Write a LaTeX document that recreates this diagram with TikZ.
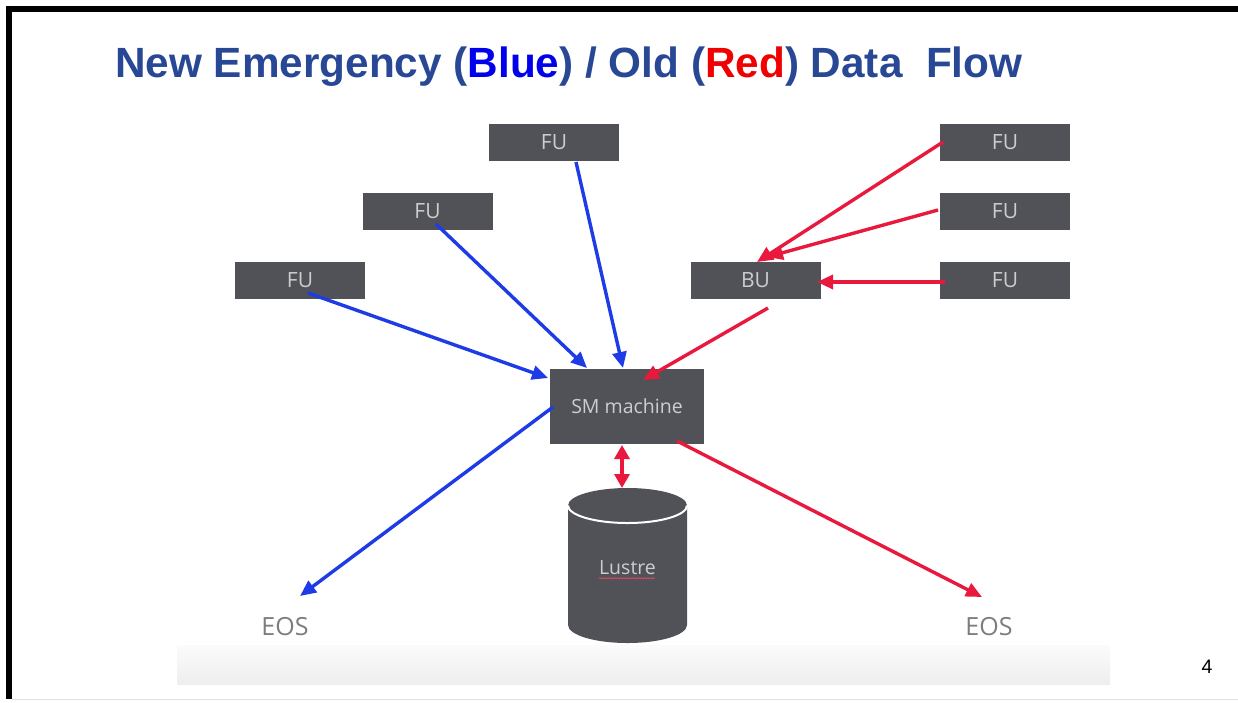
\documentclass[tikz,border=0pt]{standalone}
\usepackage{fontspec}
\setmainfont{Liberation Sans}
\newfontfamily\boxfont{Open Sans}
\usetikzlibrary{arrows.meta,decorations.pathmorphing}
\definecolor{boxgray}{RGB}{80,82,87}
\definecolor{boxtext}{RGB}{205,205,208}
\definecolor{titleblue}{RGB}{40,72,150}
\definecolor{pureblue}{RGB}{0,0,235}
\definecolor{purered}{RGB}{240,0,0}
\definecolor{arrblue}{RGB}{30,60,230}
\definecolor{arrred}{RGB}{232,25,60}
\definecolor{eosgray}{RGB}{125,125,125}
\begin{document}
\begin{tikzpicture}[x=1pt,y=-1pt,
  unitbox/.style={fill=boxgray, draw=none, minimum width=130pt, minimum height=37pt, inner sep=0pt, text=boxtext, font=\boxfont\fontsize{21}{21}\selectfont},
  bluearrow/.style={draw=arrblue, line width=3.4pt, -{Triangle[length=16pt,width=14pt]}},
  redarrow/.style={draw=arrred, line width=3.4pt, -{Triangle[length=16pt,width=14pt]}},
  eoslabel/.style={text=eosgray, inner sep=0pt, font=\boxfont\fontsize{25}{25}\selectfont}]
% canvas
\fill[white] (0,0) rectangle (1238,702);
\useasboundingbox (0,0) rectangle (1238,702);
% frame
\fill[black] (6,6) rectangle (1238,12);
\fill[black] (6,6) rectangle (12,699);
\draw[gray!25, line width=1pt] (12,699) -- (1238,699);
% bottom band
\shade[top color=gray!3, bottom color=gray!13] (177,645) rectangle (1110,684);
% title
\node[anchor=base west, inner sep=0pt, text=titleblue, font=\bfseries\fontsize{42.3}{42.3}\selectfont] (title) at (115,77)
  {New Emergency (\textcolor{pureblue}{Blue}) / Old (\textcolor{purered}{Red}) Data\ \ Flow};
% boxes
\node[unitbox] (fuA) at (554,142.5) {FU};
\node[unitbox] (fuB) at (427.5,211) {FU};
\node[unitbox] (fuC) at (300,280.5) {FU};
\node[unitbox] (fuR1) at (1005,142.5) {FU};
\node[unitbox] (fuR2) at (1005,211.5) {FU};
\node[unitbox] (fuR3) at (1005,280.5) {FU};
\node[unitbox] (bu) at (755.5,280.5) {BU};
\node[unitbox, minimum width=154pt, minimum height=75pt, font=\boxfont\fontsize{19.5}{19.5}\selectfont] (sm) at (627,406.5) {SM machine};
% cylinder
\fill[boxgray] (568,505.5) -- (568,625) arc[start angle=180, end angle=0, x radius=59.5, y radius=18]
  -- (687,505.5) arc[start angle=360, end angle=180, x radius=59.5, y radius=17.5] -- cycle;
\draw[white, line width=2pt] (568,505.5) arc[start angle=180, end angle=0, x radius=59.5, y radius=17.5];
\node[text=boxtext, inner sep=0pt, font=\boxfont\fontsize{19.5}{19.5}\selectfont] (lustre) at (627.5,568) {Lustre};
\draw[arrred!80, line width=0.7pt, decorate, decoration={snake, amplitude=0.6pt, segment length=3pt}] (lustre.south west) ++(0,3) -- ++(56,0);
% labels
\node[eoslabel] (eosL) at (285,627) {EOS};
\node[eoslabel] (eosR) at (989,627) {EOS};
\node[inner sep=0pt, font=\fontsize{19.5}{19.5}\selectfont] (pagenum) at (1207,667) {4};
% connector end points
\coordinate (fuC-out) at (308,293);
\coordinate (fuB-out) at (436,224);
\coordinate (fuA-out) at (576,162);
\coordinate (sm-inC) at (548,378);
\coordinate (sm-inB) at (587,368);
\coordinate (sm-inA) at (623,368);
\coordinate (sm-outL) at (553,407);
\coordinate (eosL-in) at (300,596);
\coordinate (fuR1-out) at (943,142);
\coordinate (fuR2-out) at (938,210);
\coordinate (fuR3-out) at (945,282);
\coordinate (bu-in1) at (757,262);
\coordinate (bu-in2) at (767,257);
\coordinate (bu-in3) at (817,282);
\coordinate (bu-out) at (768,308);
\coordinate (sm-inR) at (643,380);
\coordinate (sm-outR) at (677,441);
\coordinate (eosR-in) at (982,597);
\coordinate (sm-low) at (622,445);
\coordinate (lustre-top) at (622,488);
% blue flow
\draw[bluearrow] (fuC-out) -- (sm-inC);
\draw[bluearrow] (fuB-out) -- (sm-inB);
\draw[bluearrow] (fuA-out) -- (sm-inA);
\draw[bluearrow] (sm-outL) -- (eosL-in);
% red flow
\draw[redarrow] (fuR1-out) -- (bu-in1);
\draw[redarrow] (fuR2-out) -- (bu-in2);
\draw[redarrow] (fuR3-out) -- (bu-in3);
\draw[redarrow] (bu-out) -- (sm-inR);
\draw[redarrow] (sm-outR) -- (eosR-in);
\draw[redarrow, {Triangle[length=14pt,width=15pt]}-{Triangle[length=14pt,width=15pt]}] (sm-low) -- (lustre-top);
\end{tikzpicture}
\end{document}
